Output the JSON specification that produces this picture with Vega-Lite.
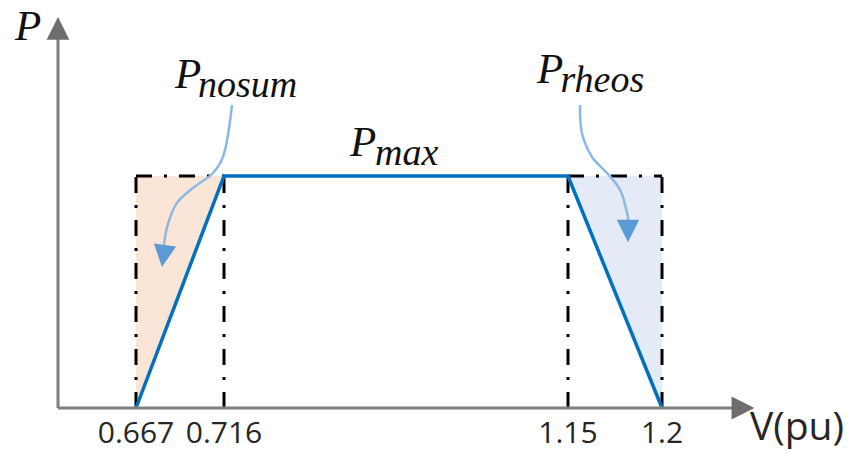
{
  "$schema": "https://vega.github.io/schema/vega-lite/v6.json",
  "width": 849,
  "height": 454,
  "autosize": {"type": "none"},
  "padding": 0,
  "background": "white",
  "config": {"view": {"stroke": null}},
  "datasets": {
    "zones": [
      {"V": 0.667, "top": 1, "edge": 0, "zone": "nosum"},
      {"V": 0.716, "top": 1, "edge": 1, "zone": "nosum"},
      {"V": 1.15, "top": 1, "edge": 1, "zone": "rheos"},
      {"V": 1.2, "top": 1, "edge": 0, "zone": "rheos"}
    ],
    "guides": [
      {"V": 0.667, "V2": 0.667, "P": 0, "P2": 1},
      {"V": 0.716, "V2": 0.716, "P": 0, "P2": 1},
      {"V": 0.667, "V2": 0.716, "P": 1, "P2": 1},
      {"V": 1.15, "V2": 1.15, "P": 0, "P2": 1},
      {"V": 1.2, "V2": 1.2, "P": 0, "P2": 1},
      {"V": 1.15, "V2": 1.2, "P": 1, "P2": 1}
    ],
    "curve": [
      {"V": 0.667, "P": 0},
      {"V": 0.716, "P": 1},
      {"V": 1.15, "P": 1},
      {"V": 1.2, "P": 0}
    ],
    "pointers": [
      {"zone": "nosum", "i": 0, "V": 0.7261, "P": 1.306},
      {"zone": "nosum", "i": 1, "V": 0.7154, "P": 1.082},
      {"zone": "nosum", "i": 2, "V": 0.7099, "P": 1.013},
      {"zone": "nosum", "i": 3, "V": 0.6987, "P": 0.948},
      {"zone": "nosum", "i": 4, "V": 0.6898, "P": 0.884},
      {"zone": "nosum", "i": 5, "V": 0.6843, "P": 0.78},
      {"zone": "nosum", "i": 6, "V": 0.6826, "P": 0.703},
      {"zone": "rheos", "i": 0, "V": 1.1564, "P": 1.306},
      {"zone": "rheos", "i": 1, "V": 1.1574, "P": 1.185},
      {"zone": "rheos", "i": 2, "V": 1.1628, "P": 1.082},
      {"zone": "rheos", "i": 3, "V": 1.1707, "P": 1.013},
      {"zone": "rheos", "i": 4, "V": 1.1777, "P": 0.94},
      {"zone": "rheos", "i": 5, "V": 1.1814, "P": 0.841},
      {"zone": "rheos", "i": 6, "V": 1.1824, "P": 0.802}
    ],
    "pointerHeads": [
      {"zone": "nosum", "V": 0.6823, "P": 0.655},
      {"zone": "rheos", "V": 1.1819, "P": 0.763}
    ],
    "axes": [
      {"V": 0.6, "V2": 0.6, "P": 0, "P2": 1.62},
      {"V": 0.6, "V2": 1.28, "P": 0, "P2": 0}
    ],
    "axisHeads": [
      {"dir": "up", "V": 0.6, "P": 1.636},
      {"dir": "right", "V": 1.289, "P": 0}
    ],
    "ticks": [
      {"V": 0.667, "label": "0.667"},
      {"V": 0.716, "label": "0.716"},
      {"V": 1.15, "label": "1.15"},
      {"V": 1.2, "label": "1.2"}
    ],
    "symbols": [
      {"V": 0.5631, "P": 1.586, "txt": "P", "role": "main"},
      {"V": 0.6887, "P": 1.379, "txt": "P", "role": "main"},
      {"V": 0.7015, "P": 1.341, "txt": "nosum", "role": "sub"},
      {"V": 0.875, "P": 1.086, "txt": "P", "role": "main"},
      {"V": 0.9065, "P": 1.047, "txt": "max", "role": "sub"},
      {"V": 1.1109, "P": 1.401, "txt": "P", "role": "main"},
      {"V": 1.1405, "P": 1.362, "txt": "rheos", "role": "sub"}
    ]
  },
  "encoding": {
    "x": {
      "type": "quantitative",
      "scale": {
        "domain": [0.6, 0.667, 0.716, 1.15, 1.2, 1.3],
        "range": [58, 136, 224, 568, 662, 753],
        "zero": false,
        "nice": false
      },
      "axis": null
    },
    "y": {
      "type": "quantitative",
      "scale": {"domain": [-0.19828, 1.75862], "zero": false, "nice": false},
      "axis": null
    }
  },
  "layer": [
    {
      "data": {"name": "zones"},
      "mark": {"type": "area", "opacity": 1},
      "encoding": {
        "x": {"field": "V"},
        "y": {"field": "top"},
        "y2": {"field": "edge"},
        "color": {
          "field": "zone",
          "type": "nominal",
          "scale": {"domain": ["nosum", "rheos"], "range": ["#FBE5D6", "#E4EBF6"]},
          "legend": null
        }
      }
    },
    {
      "data": {"name": "guides"},
      "mark": {"type": "rule", "color": "#000000", "strokeWidth": 3, "strokeDash": [16, 12, 3, 12]},
      "encoding": {
        "x": {"field": "V"},
        "x2": {"field": "V2"},
        "y": {"field": "P"},
        "y2": {"field": "P2"}
      }
    },
    {
      "data": {"name": "curve"},
      "mark": {"type": "line", "color": "#0070C0", "strokeWidth": 3.5},
      "encoding": {
        "x": {"field": "V"},
        "y": {"field": "P"}
      }
    },
    {
      "data": {"name": "pointers"},
      "mark": {"type": "line", "color": "#8DB8E4", "strokeWidth": 2.5, "interpolate": "catmull-rom"},
      "encoding": {
        "x": {"field": "V"},
        "y": {"field": "P"},
        "detail": {"field": "zone"},
        "order": {"field": "i", "type": "quantitative"}
      }
    },
    {
      "data": {"name": "pointerHeads"},
      "mark": {"type": "point", "filled": true, "color": "#5B9BD5", "opacity": 1, "shape": "M-1,-1L1,-1L0,1Z", "size": 500},
      "encoding": {
        "x": {"field": "V"},
        "y": {"field": "P"},
        "angle": {"condition": {"test": "datum.zone === 'nosum'", "value": 8}, "value": 0}
      }
    },
    {
      "data": {"name": "axes"},
      "mark": {"type": "rule", "color": "#7F7F7F", "strokeWidth": 3},
      "encoding": {
        "x": {"field": "V"},
        "x2": {"field": "V2"},
        "y": {"field": "P"},
        "y2": {"field": "P2"}
      }
    },
    {
      "data": {"name": "axisHeads"},
      "mark": {"type": "point", "filled": true, "color": "#6E6E6E", "opacity": 1, "size": 520},
      "encoding": {
        "x": {"field": "V"},
        "y": {"field": "P"},
        "shape": {
          "field": "dir",
          "type": "nominal",
          "scale": {"domain": ["up", "right"], "range": ["M-1,1L1,1L0,-1Z", "M-1,-1L1,0L-1,1Z"]},
          "legend": null
        }
      }
    },
    {
      "data": {"name": "ticks"},
      "mark": {"type": "text", "font": "Open Sans", "fontSize": 30, "color": "#262626", "align": "center", "baseline": "alphabetic"},
      "encoding": {
        "x": {"field": "V"},
        "y": {"datum": -0.151},
        "text": {"field": "label"}
      }
    },
    {
      "data": {"values": [{"V": 1.2967, "P": -0.138, "txt": "V(pu)"}]},
      "mark": {"type": "text", "font": "Open Sans", "fontSize": 39, "color": "#262626", "align": "left", "baseline": "alphabetic"},
      "encoding": {
        "x": {"field": "V"},
        "y": {"field": "P"},
        "text": {"field": "txt"}
      }
    },
    {
      "data": {"name": "symbols"},
      "mark": {"type": "text", "font": "Liberation Serif", "fontStyle": "italic", "color": "#111111", "align": "left", "baseline": "alphabetic"},
      "encoding": {
        "x": {"field": "V"},
        "y": {"field": "P"},
        "text": {"field": "txt"},
        "size": {"condition": {"test": "datum.role === 'sub'", "value": 38}, "value": 43}
      }
    }
  ]
}
